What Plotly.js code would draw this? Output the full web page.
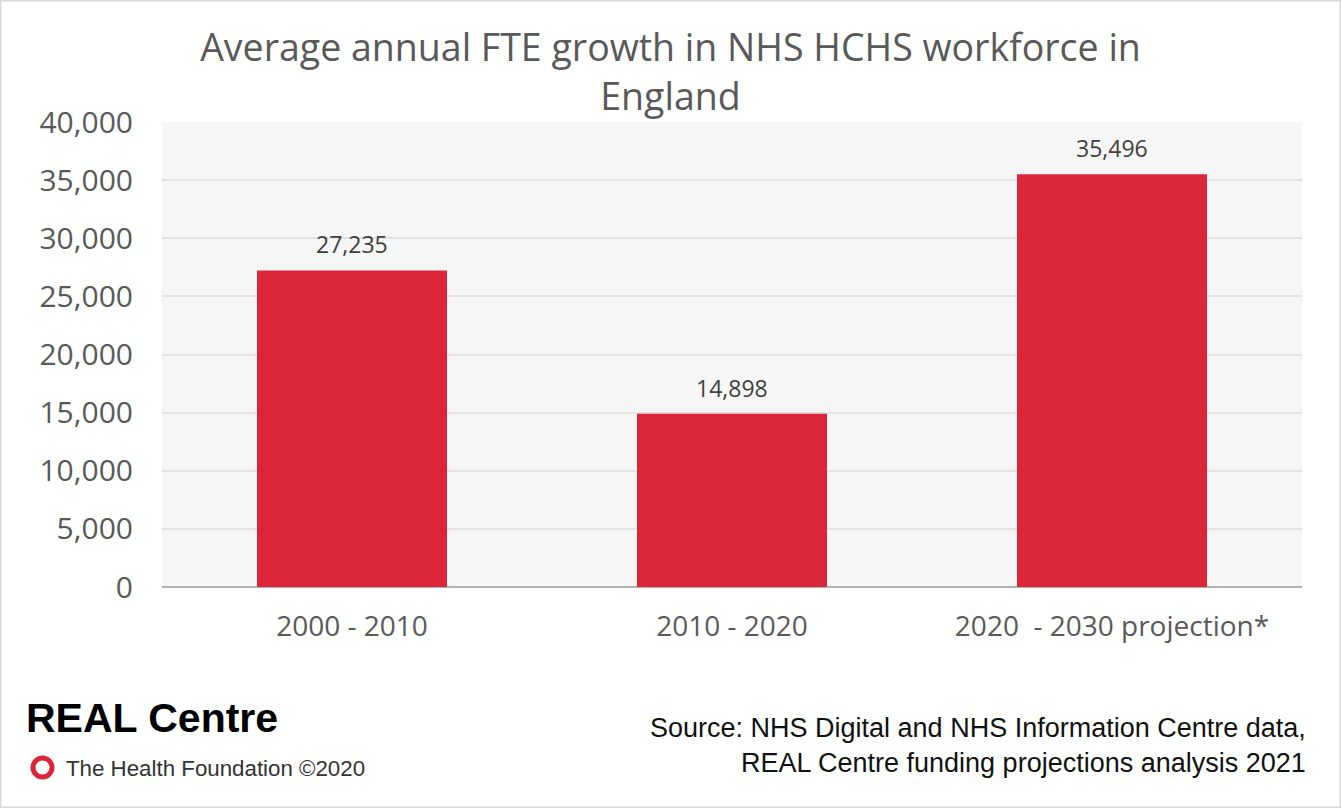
<!DOCTYPE html>
<html><head><meta charset="utf-8">
<script src="https://cdn.plot.ly/plotly-3.0.1.min.js"></script>
<style>html,body{margin:0;padding:0;background:#fff;}#chart{width:1341px;height:808px;}</style>
</head><body><div id="chart"></div>
<script>
const categories = ["2000 - 2010", "2010 - 2020", "2020  - 2030 projection*"];
const values = [27235, 14898, 35496];
const valueLabels = ["27,235", "14,898", "35,496"];
const tickVals = [0, 5000, 10000, 15000, 20000, 25000, 30000, 35000, 40000];
const tickText = ["0", "5,000", "10,000", "15,000", "20,000", "25,000", "30,000", "35,000", "40,000"];

const FONT = "Open Sans, Roboto, Arial, sans-serif";
const trace = {
  type: "bar", x: categories, y: values, width: 0.5,
  marker: {color: "#dc2637"},
  hoverinfo: "none"
};
const labelAnns = categories.map((c, i) => ({
  x: c, y: values[i], xref: "x", yref: "y", text: valueLabels[i],
  showarrow: false, xanchor: "center", yanchor: "bottom", yshift: 8,
  font: {family: FONT, size: 23, color: "#404040"}
}));
const layout = {
  width: 1341, height: 808,
  paper_bgcolor: "#ffffff", plot_bgcolor: "#f6f6f6",
  margin: {l: 162, r: 39, t: 122, b: 221},
  showlegend: false,
  title: {text: "Average annual FTE growth in NHS HCHS workforce in<br>England",
    font: {family: FONT, size: 37.5, color: "#595959"},
    x: 0.5, xanchor: "center", y: 1 - 61/808, yanchor: "middle", yref: "container"},
  xaxis: {type: "category", showgrid: false, zeroline: false, showline: false, ticks: "",
    tickfont: {family: FONT, size: 28, color: "#595959"}, ticklabelstandoff: 20},
  yaxis: {range: [0, 40000], tickvals: tickVals, ticktext: tickText, showgrid: true,
    gridcolor: "#e2e2e2", gridwidth: 2, zeroline: true, zerolinecolor: "#b3b3b3", zerolinewidth: 2,
    showline: false, ticks: "", ticklabelstandoff: 28,
    tickfont: {family: FONT, size: 30, color: "#595959"}},
  shapes: [
    {type: "rect", xref: "paper", yref: "paper", x0: -162/1140, x1: 1 + 39/1140, y0: -221/465, y1: 1 + 122/465,
     line: {color: "#d9d9d9", width: 3}, fillcolor: "rgba(0,0,0,0)"},
    {type: "circle", xref: "paper", yref: "paper",
     x0: (33 - 162)/1140, x1: (52 - 162)/1140, y0: (587 - 777)/465, y1: (587 - 758)/465,
     line: {color: "#dc2637", width: 5}, fillcolor: "rgba(0,0,0,0)"}
  ],
  annotations: labelAnns.concat([
    {text: "<b>REAL Centre</b>", xref: "paper", yref: "paper", x: (24 - 162)/1140, y: (587 - 718)/465,
     xanchor: "left", yanchor: "middle", showarrow: false,
     font: {family: "Liberation Sans, Arial, sans-serif", size: 41, color: "#000000"}},
    {text: "The Health Foundation ©2020", xref: "paper", yref: "paper", x: (64 - 162)/1140, y: (587 - 768)/465,
     xanchor: "left", yanchor: "middle", showarrow: false,
     font: {family: "Liberation Sans, Arial, sans-serif", size: 22.3, color: "#333333"}},
    {text: "Source: NHS Digital and NHS Information Centre data,<br>REAL Centre funding projections analysis 2021",
     xref: "paper", yref: "paper", x: (1308 - 162)/1140, y: (587 - 746)/465, align: "right",
     xanchor: "right", yanchor: "middle", showarrow: false,
     font: {family: "Liberation Sans, Arial, sans-serif", size: 27, color: "#111111"}}
  ])
};
Plotly.newPlot("chart", [trace], layout, {displayModeBar: false, staticPlot: true});
</script></body></html>
